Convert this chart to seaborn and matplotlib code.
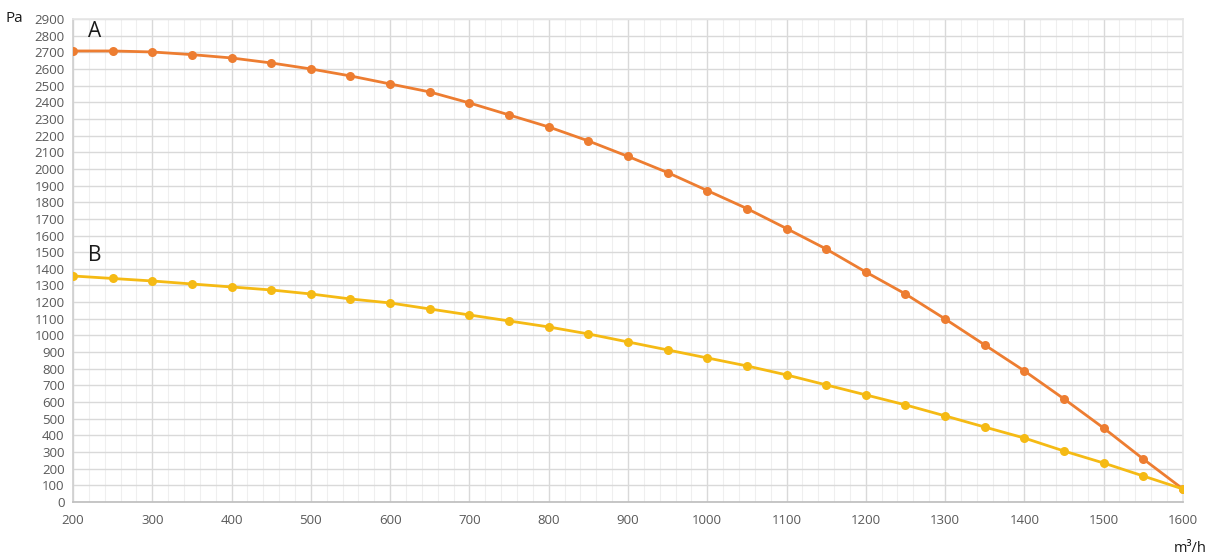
import numpy as np
import pandas as pd
import matplotlib
matplotlib.use("Agg")
import matplotlib.pyplot as plt
from matplotlib.ticker import MultipleLocator
import seaborn as sns

flow = [200, 250, 300, 350, 400, 450, 500, 550, 600, 650, 700, 750, 800, 850,
        900, 950, 1000, 1050, 1100, 1150, 1200, 1250, 1300, 1350, 1400, 1450,
        1500, 1550, 1600]
pressure_a = [2708, 2708, 2702, 2686, 2666, 2636, 2600, 2558, 2510, 2462, 2396,
              2324, 2252, 2168, 2075, 1978, 1870, 1762, 1642, 1519, 1381, 1249,
              1099, 943, 787, 619, 444, 258, 78]
pressure_b = [1357, 1342, 1327, 1309, 1291, 1273, 1249, 1219, 1195, 1159, 1123,
              1087, 1051, 1009, 961, 913, 865, 817, 763, 703, 643, 583, 517,
              450, 384, 306, 234, 156, 78]
series_names = ["A", "B"]
colors = {"A": "#ED7D31", "B": "#F5BA14"}

df = pd.concat([
    pd.DataFrame({"flow": flow, "pressure": pressure_a, "series": "A"}),
    pd.DataFrame({"flow": flow, "pressure": pressure_b, "series": "B"}),
])

sns.set_theme(style="white")
plt.rcParams["font.family"] = ["Open Sans", "DejaVu Sans"]

fig = plt.figure(figsize=(12.12, 5.6), dpi=100)
ax = fig.add_axes([0.0602, 0.1036, 0.9158, 0.8625])

sns.lineplot(data=df, x="flow", y="pressure", hue="series", palette=colors,
             marker="o", markersize=6.5, markeredgewidth=0, linewidth=2,
             legend=False, ax=ax, zorder=3)

ax.set_xlim(200, 1600)
ax.set_ylim(0, 2900)
ax.xaxis.set_major_locator(MultipleLocator(100))
ax.xaxis.set_minor_locator(MultipleLocator(20))
ax.yaxis.set_major_locator(MultipleLocator(100))
ax.grid(which="major", color="#d9d9d9", linewidth=1.0)
ax.grid(which="minor", axis="x", color="#efefef", linewidth=0.8)
ax.set_axisbelow(True)
ax.tick_params(which="both", length=0, labelsize=9.5, labelcolor="#595959", pad=6)
ax.tick_params(axis="x", pad=9)
for s in ax.spines.values():
    s.set_color("#e6e6e6")
ax.spines["bottom"].set_color("#bfbfbf")
ax.spines["left"].set_color("#d0d0d0")
ax.set_xlabel("")
ax.set_ylabel("")

ax.text(0.0135, 0.974, "A", transform=ax.transAxes, fontsize=15, color="#1a1a1a",
        ha="left", va="center")
ax.text(0.0135, 0.51, "B", transform=ax.transAxes, fontsize=15, color="#1a1a1a",
        ha="left", va="center")
fig.text(14 / 1212, 1 - 18 / 560, "Pa", fontsize=11, color="#1a1a1a",
         ha="center", va="center")
fig.text(1190 / 1212, 1 - 549 / 560, "m³/h", fontsize=10.5, color="#1a1a1a",
         ha="center", va="center")

fig.savefig("out.png", dpi=100)
